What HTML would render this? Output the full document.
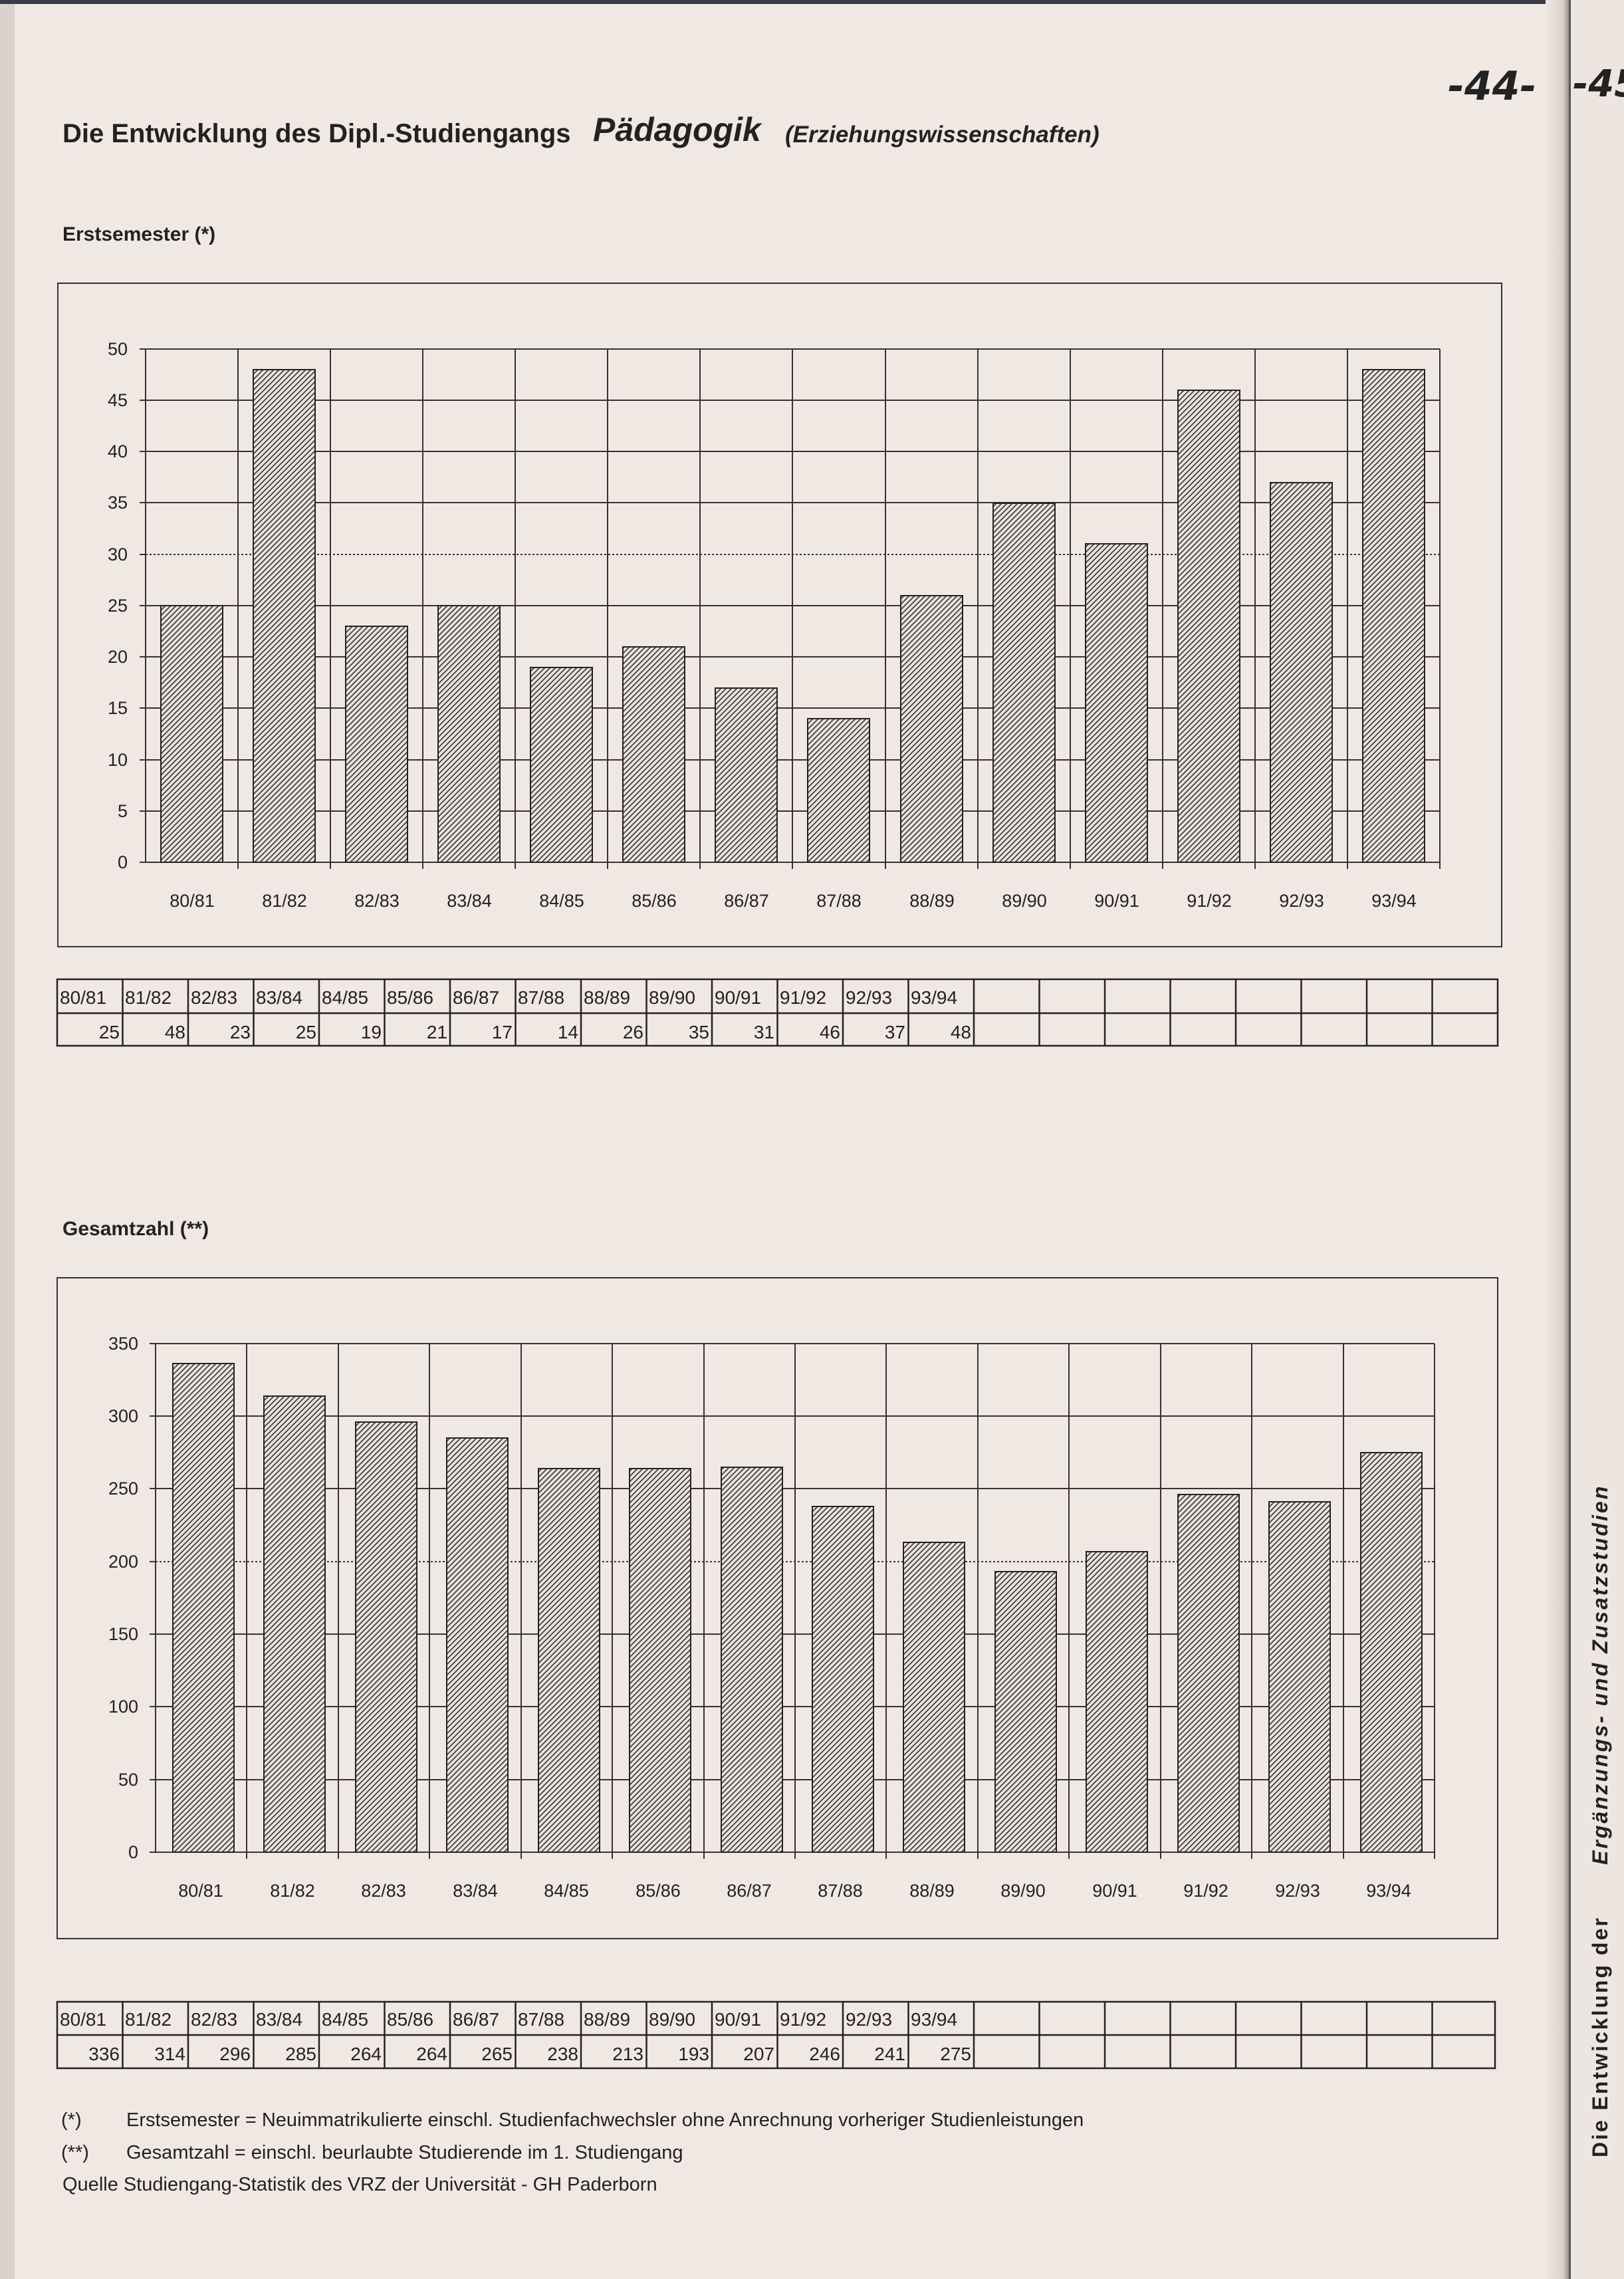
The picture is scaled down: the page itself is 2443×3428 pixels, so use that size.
<!DOCTYPE html>
<html><head><meta charset="utf-8"><style>
html,body{margin:0;padding:0;background:#f0e9e3;}
svg{display:block;}
text{font-family:"Liberation Sans Narrow","Liberation Sans",sans-serif;fill:#222;}
</style></head><body>
<svg width="2443" height="3428" viewBox="0 0 2443 3428" xmlns="http://www.w3.org/2000/svg">
<defs>
<pattern id="h" patternUnits="userSpaceOnUse" width="8" height="8">
<rect width="8" height="8" fill="#e8e2da"/>
<path d="M-2,2 L2,-2 M0,8 L8,0 M6,10 L10,6" stroke="#333" stroke-width="1.6"/>
</pattern>
<linearGradient id="sp" x1="0" x2="1">
<stop offset="0" stop-color="#f0e9e3"/><stop offset="0.7" stop-color="#dad3cc"/><stop offset="1" stop-color="#8a8580"/>
</linearGradient>
</defs>
<rect width="2443" height="3428" fill="#f0e9e3"/>
<rect x="0" y="0" width="22" height="3428" fill="#d8d3cd"/>
<rect x="0" y="0" width="2443" height="6" fill="#3a3a48"/>
<rect x="2325" y="0" width="37" height="3428" fill="url(#sp)"/>
<rect x="2360" y="0" width="3" height="3428" fill="#555"/>
<rect x="2363" y="0" width="80" height="3428" fill="#ede6e0"/>

<!-- handwritten -->
<text x="2178" y="150" style="font-family:'DejaVu Sans',sans-serif;font-style:italic;font-weight:bold" font-size="60" fill="#333">-44-</text>
<text x="2366" y="145" style="font-family:'DejaVu Sans',sans-serif;font-style:italic;font-weight:bold" font-size="56" fill="#333">-45</text>

<!-- Title -->
<text x="94" y="214" font-size="40" font-weight="bold">Die Entwicklung des Dipl.-Studiengangs</text>
<text x="892" y="212" font-size="50" font-weight="bold" font-style="italic">Pädagogik</text>
<text x="1181" y="214" font-size="35" font-weight="bold" font-style="italic">(Erziehungswissenschaften)</text>

<text x="94" y="362" font-size="30" font-weight="bold">Erstsemester (*)</text>

<!-- Chart 1 -->
<rect x="87" y="426" width="2172" height="998" fill="none" stroke="#333" stroke-width="2"/>
<g stroke="#333" stroke-width="2">
<line x1="219" y1="1220" x2="2166" y2="1220"/><line x1="219" y1="1143" x2="2166" y2="1143"/>
<line x1="219" y1="1065" x2="2166" y2="1065"/><line x1="219" y1="988" x2="2166" y2="988"/>
<line x1="219" y1="911" x2="2166" y2="911"/><line x1="219" y1="756" x2="2166" y2="756"/>
<line x1="219" y1="679" x2="2166" y2="679"/><line x1="219" y1="602" x2="2166" y2="602"/>
<line x1="219" y1="525" x2="2166" y2="525"/>
<line x1="219" y1="834" x2="2166" y2="834" stroke-dasharray="3,3"/>
<line x1="358" y1="525" x2="358" y2="1307"/><line x1="497" y1="525" x2="497" y2="1307"/>
<line x1="636" y1="525" x2="636" y2="1307"/><line x1="775" y1="525" x2="775" y2="1307"/>
<line x1="914" y1="525" x2="914" y2="1307"/><line x1="1053" y1="525" x2="1053" y2="1307"/>
<line x1="1192" y1="525" x2="1192" y2="1307"/><line x1="1332" y1="525" x2="1332" y2="1307"/>
<line x1="1471" y1="525" x2="1471" y2="1307"/><line x1="1610" y1="525" x2="1610" y2="1307"/>
<line x1="1749" y1="525" x2="1749" y2="1307"/><line x1="1888" y1="525" x2="1888" y2="1307"/>
<line x1="2027" y1="525" x2="2027" y2="1307"/><line x1="2166" y1="525" x2="2166" y2="1307"/>
<line x1="219" y1="525" x2="219" y2="1297"/><line x1="210" y1="1297" x2="2166" y2="1297"/>
<line x1="210" y1="525" x2="219" y2="525"/><line x1="210" y1="602" x2="219" y2="602"/><line x1="210" y1="679" x2="219" y2="679"/><line x1="210" y1="756" x2="219" y2="756"/><line x1="210" y1="834" x2="219" y2="834"/><line x1="210" y1="911" x2="219" y2="911"/><line x1="210" y1="988" x2="219" y2="988"/><line x1="210" y1="1065" x2="219" y2="1065"/><line x1="210" y1="1143" x2="219" y2="1143"/><line x1="210" y1="1220" x2="219" y2="1220"/>
</g>
<g fill="url(#h)" stroke="#222" stroke-width="2">
<rect x="242" y="911" width="93" height="386"/>
<rect x="381" y="556" width="93" height="741"/>
<rect x="520" y="942" width="93" height="355"/>
<rect x="659" y="911" width="93" height="386"/>
<rect x="798" y="1004" width="93" height="293"/>
<rect x="937" y="973" width="93" height="324"/>
<rect x="1076" y="1035" width="93" height="262"/>
<rect x="1215" y="1081" width="93" height="216"/>
<rect x="1355" y="896" width="93" height="401"/>
<rect x="1494" y="757" width="93" height="540"/>
<rect x="1633" y="818" width="93" height="479"/>
<rect x="1772" y="587" width="93" height="710"/>
<rect x="1911" y="726" width="93" height="571"/>
<rect x="2050" y="556" width="93" height="741"/>
</g>
<g font-size="27" text-anchor="end">
<text x="192" y="534">50</text><text x="192" y="611">45</text><text x="192" y="688">40</text><text x="192" y="765">35</text><text x="192" y="843">30</text><text x="192" y="920">25</text><text x="192" y="997">20</text><text x="192" y="1074">15</text><text x="192" y="1152">10</text><text x="192" y="1229">5</text><text x="192" y="1306">0</text>
</g>
<g font-size="27" text-anchor="middle">
<text x="289" y="1364">80/81</text><text x="428" y="1364">81/82</text><text x="567" y="1364">82/83</text><text x="706" y="1364">83/84</text><text x="845" y="1364">84/85</text><text x="984" y="1364">85/86</text><text x="1123" y="1364">86/87</text><text x="1262" y="1364">87/88</text><text x="1402" y="1364">88/89</text><text x="1541" y="1364">89/90</text><text x="1680" y="1364">90/91</text><text x="1819" y="1364">91/92</text><text x="1958" y="1364">92/93</text><text x="2097" y="1364">93/94</text>
</g>

<!-- Table 1 -->
<g stroke="#222" stroke-width="2.5" fill="none">
<rect x="86" y="1473" width="2167" height="100"/>
<line x1="86" y1="1524" x2="2253" y2="1524"/>
<path d="M184.5 1473V1573M283 1473V1573M381.5 1473V1573M480 1473V1573M578.5 1473V1573M677 1473V1573M775.5 1473V1573M874 1473V1573M972.5 1473V1573M1071 1473V1573M1169.5 1473V1573M1268 1473V1573M1366.5 1473V1573M1465 1473V1573M1563.5 1473V1573M1662 1473V1573M1760.5 1473V1573M1859 1473V1573M1957.5 1473V1573M2056 1473V1573M2154.5 1473V1573"/>
</g>
<g font-size="28">
<text x="90" y="1510">80/81</text><text x="188" y="1510">81/82</text><text x="287" y="1510">82/83</text><text x="385" y="1510">83/84</text><text x="484" y="1510">84/85</text><text x="582" y="1510">85/86</text><text x="681" y="1510">86/87</text><text x="779" y="1510">87/88</text><text x="878" y="1510">88/89</text><text x="976" y="1510">89/90</text><text x="1075" y="1510">90/91</text><text x="1173" y="1510">91/92</text><text x="1272" y="1510">92/93</text><text x="1370" y="1510">93/94</text>
</g>
<g font-size="28" text-anchor="end">
<text x="180" y="1562">25</text><text x="279" y="1562">48</text><text x="377" y="1562">23</text><text x="476" y="1562">25</text><text x="574" y="1562">19</text><text x="673" y="1562">21</text><text x="771" y="1562">17</text><text x="870" y="1562">14</text><text x="968" y="1562">26</text><text x="1067" y="1562">35</text><text x="1165" y="1562">31</text><text x="1264" y="1562">46</text><text x="1362" y="1562">37</text><text x="1461" y="1562">48</text>
</g>

<text x="94" y="1858" font-size="30" font-weight="bold">Gesamtzahl (**)</text>

<!-- Chart 2 -->
<rect x="86" y="1922" width="2167" height="994" fill="none" stroke="#333" stroke-width="2"/>
<g stroke="#333" stroke-width="2">
<line x1="234" y1="2021" x2="2158" y2="2021"/><line x1="234" y1="2130" x2="2158" y2="2130"/>
<line x1="234" y1="2239" x2="2158" y2="2239"/><line x1="234" y1="2458" x2="2158" y2="2458"/>
<line x1="234" y1="2567" x2="2158" y2="2567"/><line x1="234" y1="2677" x2="2158" y2="2677"/>
<line x1="234" y1="2349" x2="2158" y2="2349" stroke-dasharray="3,3"/>
<line x1="371" y1="2021" x2="371" y2="2796"/><line x1="509" y1="2021" x2="509" y2="2796"/>
<line x1="646" y1="2021" x2="646" y2="2796"/><line x1="784" y1="2021" x2="784" y2="2796"/>
<line x1="921" y1="2021" x2="921" y2="2796"/><line x1="1059" y1="2021" x2="1059" y2="2796"/>
<line x1="1196" y1="2021" x2="1196" y2="2796"/><line x1="1333" y1="2021" x2="1333" y2="2796"/>
<line x1="1471" y1="2021" x2="1471" y2="2796"/><line x1="1608" y1="2021" x2="1608" y2="2796"/>
<line x1="1746" y1="2021" x2="1746" y2="2796"/><line x1="1883" y1="2021" x2="1883" y2="2796"/>
<line x1="2021" y1="2021" x2="2021" y2="2796"/><line x1="2158" y1="2021" x2="2158" y2="2796"/>
<line x1="234" y1="2021" x2="234" y2="2786"/><line x1="225" y1="2786" x2="2158" y2="2786"/>
<line x1="225" y1="2021" x2="234" y2="2021"/><line x1="225" y1="2130" x2="234" y2="2130"/><line x1="225" y1="2239" x2="234" y2="2239"/><line x1="225" y1="2349" x2="234" y2="2349"/><line x1="225" y1="2458" x2="234" y2="2458"/><line x1="225" y1="2567" x2="234" y2="2567"/><line x1="225" y1="2677" x2="234" y2="2677"/>
</g>
<g fill="url(#h)" stroke="#222" stroke-width="2">
<rect x="260" y="2051" width="92" height="735"/>
<rect x="397" y="2100" width="92" height="686"/>
<rect x="535" y="2139" width="92" height="647"/>
<rect x="672" y="2163" width="92" height="623"/>
<rect x="810" y="2209" width="92" height="577"/>
<rect x="947" y="2209" width="92" height="577"/>
<rect x="1085" y="2207" width="92" height="579"/>
<rect x="1222" y="2266" width="92" height="520"/>
<rect x="1359" y="2320" width="92" height="466"/>
<rect x="1497" y="2364" width="92" height="422"/>
<rect x="1634" y="2334" width="92" height="452"/>
<rect x="1772" y="2248" width="92" height="538"/>
<rect x="1909" y="2259" width="92" height="527"/>
<rect x="2047" y="2185" width="92" height="601"/>
</g>
<g font-size="27" text-anchor="end">
<text x="208" y="2030">350</text><text x="208" y="2139">300</text><text x="208" y="2248">250</text><text x="208" y="2358">200</text><text x="208" y="2467">150</text><text x="208" y="2576">100</text><text x="208" y="2686">50</text><text x="208" y="2795">0</text>
</g>
<g font-size="27" text-anchor="middle">
<text x="302" y="2853">80/81</text><text x="440" y="2853">81/82</text><text x="577" y="2853">82/83</text><text x="715" y="2853">83/84</text><text x="852" y="2853">84/85</text><text x="990" y="2853">85/86</text><text x="1127" y="2853">86/87</text><text x="1264" y="2853">87/88</text><text x="1402" y="2853">88/89</text><text x="1539" y="2853">89/90</text><text x="1677" y="2853">90/91</text><text x="1814" y="2853">91/92</text><text x="1952" y="2853">92/93</text><text x="2089" y="2853">93/94</text>
</g>

<!-- Table 2 -->
<g stroke="#222" stroke-width="2.5" fill="none">
<rect x="86" y="3011" width="2163" height="100"/>
<line x1="86" y1="3061" x2="2249" y2="3061"/>
<path d="M184.5 3011V3111M283 3011V3111M381.5 3011V3111M480 3011V3111M578.5 3011V3111M677 3011V3111M775.5 3011V3111M874 3011V3111M972.5 3011V3111M1071 3011V3111M1169.5 3011V3111M1268 3011V3111M1366.5 3011V3111M1465 3011V3111M1563.5 3011V3111M1662 3011V3111M1760.5 3011V3111M1859 3011V3111M1957.5 3011V3111M2056 3011V3111M2154.5 3011V3111"/>
</g>
<g font-size="28">
<text x="90" y="3047">80/81</text><text x="188" y="3047">81/82</text><text x="287" y="3047">82/83</text><text x="385" y="3047">83/84</text><text x="484" y="3047">84/85</text><text x="582" y="3047">85/86</text><text x="681" y="3047">86/87</text><text x="779" y="3047">87/88</text><text x="878" y="3047">88/89</text><text x="976" y="3047">89/90</text><text x="1075" y="3047">90/91</text><text x="1173" y="3047">91/92</text><text x="1272" y="3047">92/93</text><text x="1370" y="3047">93/94</text>
</g>
<g font-size="28" text-anchor="end">
<text x="180" y="3099">336</text><text x="279" y="3099">314</text><text x="377" y="3099">296</text><text x="476" y="3099">285</text><text x="574" y="3099">264</text><text x="673" y="3099">264</text><text x="771" y="3099">265</text><text x="870" y="3099">238</text><text x="968" y="3099">213</text><text x="1067" y="3099">193</text><text x="1165" y="3099">207</text><text x="1264" y="3099">246</text><text x="1362" y="3099">241</text><text x="1461" y="3099">275</text>
</g>

<!-- Footnotes -->
<g font-size="29">
<text x="92" y="3198">(*)</text><text x="190" y="3198">Erstsemester = Neuimmatrikulierte einschl. Studienfachwechsler ohne Anrechnung vorheriger Studienleistungen</text>
<text x="92" y="3247">(**)</text><text x="190" y="3247">Gesamtzahl = einschl. beurlaubte Studierende im 1. Studiengang</text>
<text x="94" y="3295">Quelle  Studiengang-Statistik des VRZ der Universität - GH   Paderborn</text>
</g>

<!-- Side text -->
<g transform="translate(2418,3245) rotate(-90)">
<text x="0" y="0" font-size="32" font-weight="bold" style="font-family:'Liberation Sans',sans-serif" letter-spacing="3">Die Entwicklung der</text>
<text x="440" y="0" font-size="32" font-weight="bold" font-style="italic" style="font-family:'Liberation Sans',sans-serif" letter-spacing="3">Ergänzungs- und Zusatzstudien</text>
</g>
</svg>
</body></html>
